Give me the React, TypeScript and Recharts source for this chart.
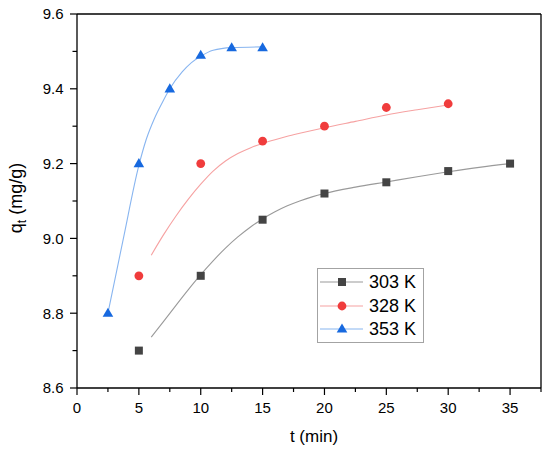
import React from 'react'
import { ComposedChart, Line, Scatter, XAxis, YAxis, Legend, ReferenceLine } from 'recharts'

// measured points
const t303 = [5, 10, 15, 20, 25, 30, 35]
const q303 = [8.7, 8.9, 9.05, 9.12, 9.15, 9.18, 9.2]
const t328 = [5, 10, 15, 20, 25, 30]
const q328 = [8.9, 9.2, 9.26, 9.3, 9.35, 9.36]
const t353 = [2.5, 5, 7.5, 10, 12.5, 15]
const q353 = [8.8, 9.2, 9.4, 9.49, 9.51, 9.51]

// fitted curves
const fitT303 = [6, 7, 8, 9, 10, 11, 12, 13, 14, 15, 16, 17, 18, 19, 20, 22.5, 25, 27.5, 30, 32.5, 35]
const fitQ303 = [8.736, 8.778, 8.821, 8.863, 8.903, 8.94, 8.974, 9.004, 9.03, 9.052, 9.071, 9.087, 9.1, 9.111, 9.12, 9.137, 9.151, 9.165, 9.178, 9.19, 9.2]
const fitT328 = [6, 7, 8, 9, 10, 11, 12, 13, 14, 15, 16, 17, 18, 20, 22.5, 25, 27.5, 30]
const fitQ328 = [8.955, 9.01, 9.06, 9.105, 9.145, 9.18, 9.207, 9.227, 9.242, 9.254, 9.264, 9.273, 9.281, 9.296, 9.313, 9.33, 9.344, 9.357]
const fitT353 = [2.5, 3.75, 5, 5.6, 6.25, 7, 7.5, 8.5, 9.25, 10, 11, 12.5, 15]
const fitQ353 = [8.8, 9.0, 9.195, 9.265, 9.32, 9.37, 9.4, 9.445, 9.47, 9.487, 9.503, 9.51, 9.512]

const seriesNames = ['303 K', '328 K', '353 K']
const xTicks = [0, 2.5, 5, 7.5, 10, 12.5, 15, 17.5, 20, 22.5, 25, 27.5, 30, 32.5, 35, 37.5]
const yTicks = [8.6, 8.7, 8.8, 8.9, 9.0, 9.1, 9.2, 9.3, 9.4, 9.5, 9.6]
const yLabels = ['8.6', '8.8', '9.0', '9.2', '9.4', '9.6']

const zip = (ts: number[], qs: number[]) => ts.map((t, i) => ({ t, q: qs[i] }))

const pts303 = zip(t303, q303)
const pts328 = zip(t328, q328)
const pts353 = zip(t353, q353)
const fit303 = zip(fitT303, fitQ303)
const fit328 = zip(fitT328, fitQ328)
const fit353 = zip(fitT353, fitQ353)

const FONT = '"Liberation Sans", Arial, sans-serif'

const colors = {
  s303: '#444444', l303: '#9a9a9a',
  s328: '#f03c3c', l328: '#f6a2a2',
  s353: '#1769df', l353: '#88b5f0',
}

const Square = ({ cx, cy, fill }: any) => <rect x={cx - 4} y={cy - 4} width={8} height={8} fill={fill} />
const Circle = ({ cx, cy, fill }: any) => <circle cx={cx} cy={cy} r={4.4} fill={fill} />
const Triangle = ({ cx, cy, fill }: any) => (
  <polygon points={`${cx},${cy - 5.5} ${cx + 5.3},${cy + 3.6} ${cx - 5.3},${cy + 3.6}`} fill={fill} />
)

const XTick = ({ x, y, payload }: any) => {
  const major = payload.value % 5 === 0
  return (
    <g>
      <line x1={x} y1={y} x2={x} y2={y + (major ? 7 : 4)} stroke="#000" strokeWidth={1.2} />
      {major && (
        <text x={x} y={y + 24.5} textAnchor="middle" fontSize={15} fontFamily={FONT} fill="#000">
          {payload.value}
        </text>
      )}
    </g>
  )
}

const YTick = ({ x, y, payload, index }: any) => {
  const major = index % 2 === 0
  return (
    <g>
      <line x1={x - (major ? 7 : 4.5)} y1={y} x2={x} y2={y} stroke="#000" strokeWidth={1.2} />
      {major && (
        <text x={x - 13.5} y={y + 5.3} textAnchor="end" fontSize={15} fontFamily={FONT} fill="#000">
          {yLabels[index / 2]}
        </text>
      )}
    </g>
  )
}

const legendRows = [
  { name: seriesNames[0], line: colors.l303, fill: colors.s303, Shape: Square },
  { name: seriesNames[1], line: colors.l328, fill: colors.s328, Shape: Circle },
  { name: seriesNames[2], line: colors.l353, fill: colors.s353, Shape: Triangle },
]

const LegendBox = () => (
  <div style={{ position: 'relative', width: 105, height: 73, border: '1px solid #a3a3a3', background: '#fff' }}>
    {legendRows.map((r, i) => (
      <div key={r.name} style={{ position: 'absolute', left: 2, top: [3, 27, 50][i], height: 20, width: 103 }}>
        <svg width={46} height={20} style={{ position: 'absolute', left: 0, top: 0 }}>
          <line x1={0} y1={10} x2={43} y2={10} stroke={r.line} strokeWidth={1.2} />
          <r.Shape cx={22} cy={10} fill={r.fill} />
        </svg>
        <span style={{ position: 'absolute', left: 49, top: 0, fontSize: 18, lineHeight: '20px', fontFamily: FONT, color: '#000', whiteSpace: 'nowrap' }}>
          {r.name}
        </span>
      </div>
    ))}
  </div>
)

export default function App() {
  return (
    <div style={{ position: 'absolute', left: 0, top: 0, width: 550, height: 453, background: '#fff' }}>
      <ComposedChart width={550} height={453} margin={{ top: 14, right: 9, bottom: 0, left: 0 }}>
        <XAxis
          type="number"
          dataKey="t"
          domain={[0, 37.5]}
          ticks={xTicks}
          interval={0}
          allowDataOverflow
          height={65}
          tickSize={0}
          tickMargin={0}
          tickLine={false}
          axisLine={{ stroke: '#000', strokeWidth: 1.3 }}
          tick={<XTick />}
          label={{
            content: () => (
              <text x={314} y={442} textAnchor="middle" fontSize={17} fontFamily={FONT} fill="#000">
                t (min)
              </text>
            ),
          }}
        />
        <YAxis
          type="number"
          dataKey="q"
          domain={[8.6, 9.6]}
          ticks={yTicks}
          interval={0}
          allowDataOverflow
          width={77}
          tickSize={0}
          tickMargin={0}
          tickLine={false}
          axisLine={{ stroke: '#000', strokeWidth: 1.3 }}
          tick={<YTick />}
          label={{
            content: () => (
              <text transform="translate(22,198) rotate(-90)" textAnchor="middle" fontSize={18} fontFamily={FONT} fill="#000">
                q<tspan fontSize={12} dy={4}>t</tspan>
                <tspan dy={-4}> (mg/g)</tspan>
              </text>
            ),
          }}
        />
        <ReferenceLine y={9.6} stroke="#000" strokeWidth={1.3} />
        <ReferenceLine x={37.5} stroke="#000" strokeWidth={1.3} />
        <Line data={fit303} dataKey="q" type="monotone" stroke={colors.l303} strokeWidth={1.1} dot={false} activeDot={false} isAnimationActive={false} legendType="none" />
        <Line data={fit328} dataKey="q" type="monotone" stroke={colors.l328} strokeWidth={1.1} dot={false} activeDot={false} isAnimationActive={false} legendType="none" />
        <Line data={fit353} dataKey="q" type="monotone" stroke={colors.l353} strokeWidth={1.1} dot={false} activeDot={false} isAnimationActive={false} legendType="none" />
        <Scatter name={seriesNames[0]} data={pts303} dataKey="q" fill={colors.s303} shape={Square} isAnimationActive={false} />
        <Scatter name={seriesNames[1]} data={pts328} dataKey="q" fill={colors.s328} shape={Circle} isAnimationActive={false} />
        <Scatter name={seriesNames[2]} data={pts353} dataKey="q" fill={colors.s353} shape={Triangle} isAnimationActive={false} />
        <Legend
          layout="vertical"
          align="center"
          verticalAlign="middle"
          content={() => <LegendBox />}
          wrapperStyle={{ left: 317, top: 268, width: 107, height: 75 }}
        />
      </ComposedChart>
    </div>
  )
}
